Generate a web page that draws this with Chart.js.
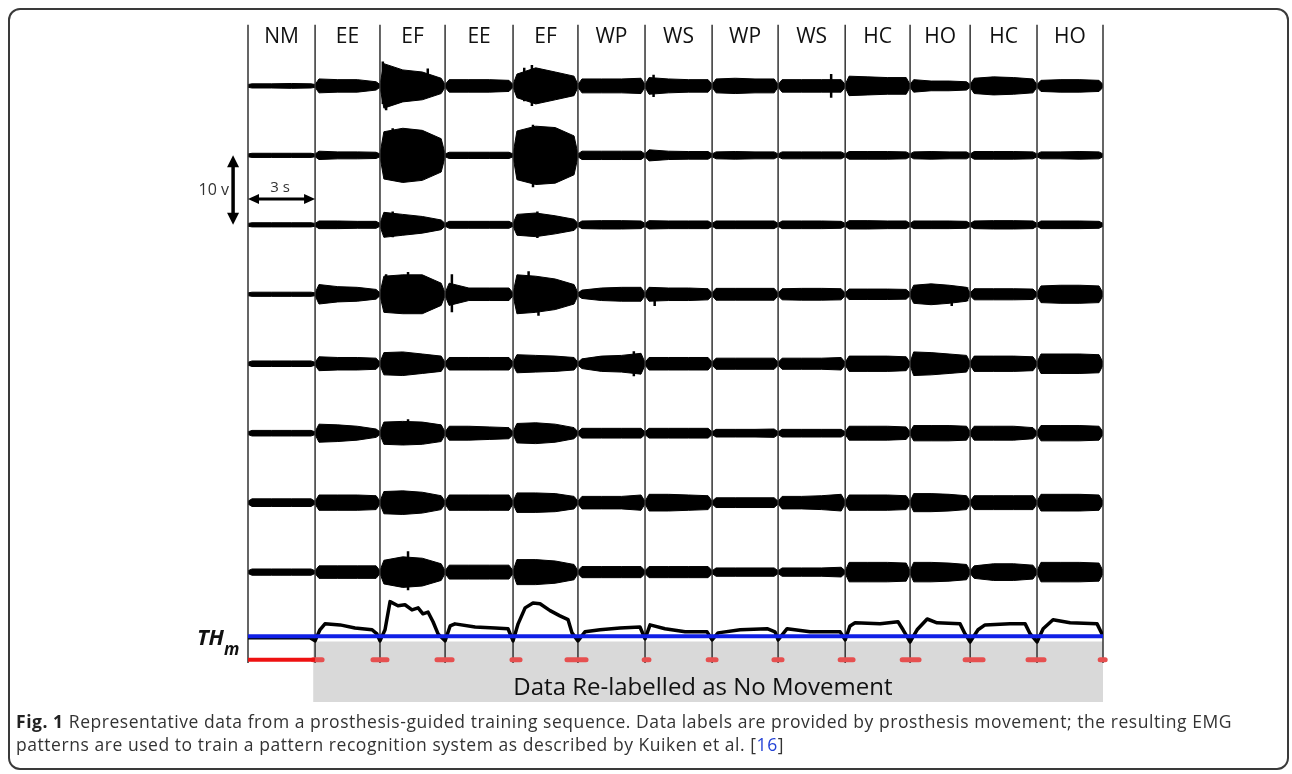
<!DOCTYPE html>
<html><head><meta charset="utf-8">
<script src="https://cdn.jsdelivr.net/npm/chart.js@4.4.0/dist/chart.umd.min.js"></script>
<style>
html,body{margin:0;padding:0;background:#fff;width:1292px;height:774px;overflow:hidden;}
#frame{position:absolute;left:8px;top:8px;width:1281px;height:762px;border:2px solid #3a3a3a;border-radius:12px;box-sizing:border-box;}
#c{position:absolute;left:0;top:0;}
#cap{position:absolute;left:16px;top:710px;font-family:"Open Sans";font-size:17.5px;line-height:23px;color:#333;white-space:nowrap;}
#cap b{color:#222;font-weight:700}
#cap span.ref{color:#2342d6}
#cap div{display:inline-block}
</style></head><body>
<div id="frame"></div>
<canvas id="c" width="1292" height="774"></canvas>
<div id="cap"><div id="l1"><b>Fig. 1</b> Representative data from a prosthesis-guided training sequence. Data labels are provided by prosthesis movement; the resulting EMG</div><br><div id="l2">patterns are used to train a pattern recognition system as described by Kuiken et al. [<span class="ref">16</span>]</div></div>
<script>
// ---- data ----
const segmentLabels = ['NM','EE','EF','EE','EF','WP','WS','WP','WS','HC','HO','HC','HO'];
const segmentBounds = [0, 3.06, 6.02, 8.99, 12.09, 15.05, 18.11, 21.17, 24.18, 27.24, 30.20, 32.94, 35.99, 39.0];
const channelOffsets = [0, -10, -20, -30, -40, -50, -60, -70];   // volts
const restAmp = 0.2;
// EMG amplitude envelope (V), 4 readings per segment
const emgCh1 = [[0.3,0.3,0.35,0.3],[1.0,0.9,0.9,0.6],[3.2,2.3,2.0,1.1],[0.9,0.9,0.9,0.8],[1.7,2.6,2.0,1.4],[1.0,1.0,1.0,1.1],[1.2,1.0,0.9,0.9],[1.0,1.1,1.0,1.0],[0.9,0.9,0.9,0.9],[1.4,1.3,1.2,1.2],[0.9,0.7,0.7,0.6],[1.1,1.3,1.2,1.0],[0.8,0.9,0.9,0.8]];
const emgCh2 = [[0.3,0.3,0.3,0.3],[0.6,0.5,0.5,0.45],[3.4,3.9,3.6,2.4],[0.45,0.45,0.45,0.45],[3.5,4.2,4.0,2.8],[0.6,0.6,0.6,0.6],[0.8,0.6,0.55,0.55],[0.5,0.55,0.5,0.5],[0.5,0.5,0.5,0.5],[0.55,0.55,0.55,0.5],[0.5,0.55,0.5,0.5],[0.55,0.55,0.55,0.5],[0.5,0.5,0.55,0.5]];
const emgCh3 = [[0.3,0.3,0.3,0.3],[0.55,0.55,0.5,0.5],[1.8,1.5,1.2,0.7],[0.5,0.5,0.5,0.5],[1.5,1.7,1.3,0.8],[0.55,0.6,0.6,0.55],[0.6,0.55,0.55,0.55],[0.55,0.55,0.55,0.55],[0.55,0.55,0.55,0.5],[0.6,0.6,0.55,0.55],[0.55,0.55,0.55,0.5],[0.55,0.6,0.6,0.55],[0.55,0.55,0.55,0.5]];
const emgCh4 = [[0.3,0.3,0.3,0.3],[1.4,1.1,1.0,0.7],[2.6,2.8,2.8,1.6],[1.6,0.9,0.9,0.9],[2.8,2.6,2.2,1.4],[0.6,0.9,1.0,1.0],[1.0,0.9,0.9,0.8],[0.85,0.85,0.85,0.85],[0.8,0.85,0.85,0.8],[0.75,0.75,0.75,0.7],[1.3,1.5,1.3,1.0],[0.8,0.8,0.8,0.75],[1.2,1.3,1.3,1.2]];
const emgCh5 = [[0.4,0.4,0.4,0.4],[1.0,0.9,0.9,0.8],[1.6,1.7,1.4,1.1],[0.9,0.9,0.9,0.9],[1.3,1.2,1.1,0.9],[0.7,1.1,1.2,1.5],[0.9,0.9,0.9,0.9],[0.8,0.8,0.8,0.8],[0.8,0.8,0.8,0.9],[1.1,1.1,1.1,1.0],[1.7,1.6,1.4,1.2],[1.1,1.1,1.1,1.0],[1.4,1.4,1.4,1.3]];
const emgCh6 = [[0.4,0.4,0.4,0.4],[1.3,1.2,1.0,0.6],[1.6,1.7,1.6,1.2],[1.0,1.0,0.9,0.8],[1.4,1.5,1.3,0.8],[0.7,0.7,0.7,0.7],[0.7,0.7,0.7,0.7],[0.55,0.55,0.55,0.6],[0.55,0.55,0.55,0.55],[1.0,1.0,1.0,0.9],[1.1,1.1,1.1,1.0],[1.0,1.0,1.0,0.8],[1.1,1.1,1.1,1.0]];
const emgCh7 = [[0.55,0.55,0.55,0.55],[1.1,1.1,1.1,1.0],[1.6,1.7,1.5,1.0],[1.1,1.1,1.1,1.1],[1.4,1.4,1.3,0.9],[0.9,0.9,0.9,1.1],[1.2,1.2,1.1,1.0],[0.7,0.7,0.7,0.7],[0.9,0.9,1.0,1.2],[1.1,1.1,1.1,1.0],[1.3,1.3,1.2,1.0],[1.0,1.0,1.0,1.0],[1.2,1.2,1.2,1.1]];
const emgCh8 = [[0.45,0.45,0.45,0.45],[0.9,0.9,0.9,0.9],[1.7,2.2,2.0,1.2],[1.0,1.0,1.0,1.0],[1.8,1.8,1.6,1.1],[0.8,0.8,0.8,0.8],[0.8,0.8,0.8,0.8],[0.6,0.6,0.6,0.6],[0.6,0.6,0.6,0.7],[1.4,1.4,1.4,1.3],[1.4,1.4,1.3,1.1],[0.9,1.2,1.2,1.0],[1.4,1.4,1.4,1.3]];
const emgChannels = [emgCh1, emgCh2, emgCh3, emgCh4, emgCh5, emgCh6, emgCh7, emgCh8];
// prominent individual spikes: channel index, time (s), up / down excursion (V)
const spikeChannel = [0,0,0,0,0,0,0,3,3,3,3,3,3,3,3,4,5,7,7,1,1,2,2];
const spikeTime    = [6.15,6.3,8.2,12.6,12.95,18.5,26.6,6.3,7.3,9.3,12.8,13.25,18.55,32.8,32.1,17.6,7.3,7.3,7.5,6.6,13.0,6.6,13.2];
const spikeUp      = [3.5,2.0,2.5,2.6,3.0,1.6,1.7,2.9,3.2,2.9,3.3,2.0,1.0,1.0,1.0,1.8,2.0,3.0,1.5,3.9,4.4,1.9,1.9];
const spikeDown    = [2.6,3.5,1.5,2.2,2.9,1.6,1.7,2.6,2.3,2.6,2.4,3.1,1.7,1.0,1.7,1.8,1.6,2.6,1.5,3.6,4.6,1.8,1.9];
// mean-absolute-value envelope relative to threshold TH_m (V)
const thresholdTH = -79.25;
const envTime = [0,1.46,2.83,3.06,3.28,3.51,4.2,4.88,5.66,5.88,6.02,6.25,6.48,6.84,7.16,7.48,7.76,7.98,8.21,8.44,8.67,8.99,9.22,9.44,10.36,11.27,11.86,12.09,12.32,12.64,13.0,13.32,13.78,14.23,14.6,14.78,15.05,15.37,16.06,16.97,17.88,18.11,18.34,19.02,19.94,20.94,21.17,21.44,22.45,23.68,24.04,24.18,24.59,25.64,27.01,27.24,27.46,27.69,28.83,29.65,29.88,30.2,30.52,30.98,31.43,32.48,32.71,32.94,33.3,33.62,34.76,35.45,35.68,35.99,36.27,36.72,37.5,38.73,39.0];
const envValue = [-0.2,-0.2,-0.2,-0.65,0.95,1.8,1.65,1.2,0.95,0.35,-0.65,0.95,5.0,4.4,4.55,3.8,4.1,3.25,3.5,2.1,0.35,-0.65,1.5,1.8,1.35,1.2,1.1,-0.65,1.8,4.1,4.8,4.7,3.7,2.95,2.4,0.5,-0.65,0.65,0.95,1.2,1.35,-0.35,1.65,1.1,0.65,0.65,-0.5,0.5,0.95,1.1,0.65,-0.5,1.1,0.65,0.65,-0.5,1.5,1.95,1.8,2.1,0.95,-0.8,0.95,2.5,1.95,1.8,0.35,-0.8,0.95,1.65,1.8,1.8,0.35,-0.8,1.1,2.4,1.95,1.8,0.05];
// label line: no-movement labels and re-labelled intervals (s)
const nmLabelSpan = [0, 3.06];
const relabelStart = [2.97,5.70,8.62,12.04,14.55,18.07,20.99,23.99,27.01,29.84,32.71,35.58,38.87];
const relabelEnd   = [3.38,6.34,9.31,12.41,15.42,18.29,21.35,24.36,27.60,30.61,33.53,36.31,39.1];
const labelLevel = -82.6;
const relabelBoxSpan = [2.97, 39.1];
const relabelBoxLevels = [-80.0, -88.7];
const relabelText = 'Data Re-labelled as No Movement';
const scaleBarVolts = 10, scaleBarSeconds = 3;

// ---- caption fit ----
(function(){
  const l1 = document.getElementById('l1');
  const target = 1216;
  const w = l1.getBoundingClientRect().width;
  const n = l1.textContent.length;
  const ls = (target - w) / n;
  document.getElementById('cap').style.letterSpacing = ls.toFixed(3) + 'px';
})();

// ---- build datasets ----
const fr = [0.06, 0.35, 0.65, 0.94];
function band(ch, off, sign){
  const pts = [];
  for (let s = 0; s < segmentLabels.length; s++){
    const b0 = segmentBounds[s], b1 = segmentBounds[s+1];
    pts.push({x:b0, y:off + sign*restAmp});
    ch[s].forEach((a,i)=>pts.push({x:b0 + (b1-b0)*fr[i], y:off + sign*a}));
  }
  pts.push({x:segmentBounds[segmentBounds.length-1], y:off + sign*restAmp});
  return pts;
}
const base = {pointRadius:0, tension:0, fill:false, spanGaps:false};
const datasets = [];
datasets.push({...base, label:'TH', data:[{x:0,y:thresholdTH},{x:segmentBounds[13],y:thresholdTH}], borderColor:'#1020e6', borderWidth:4});
datasets.push({...base, label:'env', data:envTime.map((t,i)=>({x:t,y:thresholdTH+envValue[i]})), borderColor:'#000', borderWidth:3.5, borderJoinStyle:'round'});
datasets.push({...base, label:'nm', data:[{x:nmLabelSpan[0],y:labelLevel},{x:nmLabelSpan[1],y:labelLevel}], borderColor:'#ee1111', borderWidth:4});
const relPts = [];
relabelStart.forEach((s,i)=>{relPts.push({x:s,y:labelLevel},{x:relabelEnd[i],y:labelLevel},{x:relabelEnd[i],y:null});});
datasets.push({...base, label:'relabel', data:relPts, borderColor:'#e65050', borderWidth:5, borderCapStyle:'round', clip:false});
const sepPts = [];
segmentBounds.forEach(b=>{sepPts.push({x:b,y:8.8},{x:b,y:-83.1},{x:b,y:null});});
datasets.push({...base, label:'sep', data:sepPts, borderColor:'#333', borderWidth:1.5, clip:false});
const spikePts = [];
spikeChannel.forEach((c,i)=>{
  const off = channelOffsets[c];
  spikePts.push({x:spikeTime[i],y:off+spikeUp[i]},{x:spikeTime[i],y:off-spikeDown[i]},{x:spikeTime[i],y:null});
});
datasets.push({...base, label:'spikes', data:spikePts, borderColor:'#000', borderWidth:2.5});
emgChannels.forEach((ch,k)=>{
  datasets.push({...base, label:'up'+k, data:band(ch,channelOffsets[k],1), borderColor:'#000', borderWidth:1, backgroundColor:'#000', fill:'+1'});
  datasets.push({...base, label:'lo'+k, data:band(ch,channelOffsets[k],-1), borderColor:'#000', borderWidth:1});
});
datasets.push({...base, label:'box', data:[{x:relabelBoxSpan[0],y:relabelBoxLevels[0]},{x:relabelBoxSpan[1],y:relabelBoxLevels[0]}], borderWidth:0, borderColor:'rgba(0,0,0,0)', backgroundColor:'#d9d9d9', fill:{value:relabelBoxLevels[1]}, clip:false});

function arrow(ctx, x1,y1,x2,y2, head, hw, lw){
  const ang = Math.atan2(y2-y1, x2-x1);
  const ux=Math.cos(ang), uy=Math.sin(ang);
  ctx.save(); ctx.strokeStyle='#000'; ctx.fillStyle='#000'; ctx.lineWidth=lw;
  ctx.beginPath(); ctx.moveTo(x1+ux*head*0.8,y1+uy*head*0.8); ctx.lineTo(x2-ux*head*0.8,y2-uy*head*0.8); ctx.stroke();
  [[x1,y1,1],[x2,y2,-1]].forEach(([x,y,d])=>{
    ctx.beginPath(); ctx.moveTo(x,y);
    ctx.lineTo(x+d*ux*head - uy*hw/2, y+d*uy*head + ux*hw/2);
    ctx.lineTo(x+d*ux*head + uy*hw/2, y+d*uy*head - ux*hw/2);
    ctx.closePath(); ctx.fill();
  });
  ctx.restore();
}

const annot = {
  id:'annot',
  afterDraw(chart){
    const ctx = chart.ctx, xs = chart.scales.x, ys = chart.scales.y;
    ctx.save();
    // segment labels
    ctx.fillStyle='#111'; ctx.font='21px "Open Sans"'; ctx.textAlign='center'; ctx.textBaseline='middle';
    segmentLabels.forEach((l,i)=>{
      ctx.fillText(l, xs.getPixelForValue((segmentBounds[i]+segmentBounds[i+1])/2), ys.getPixelForValue(7.0));
    });
    // box text
    ctx.font='24px "Open Sans"'; ctx.textBaseline='alphabetic'; ctx.fillStyle='#111';
    ctx.fillText(relabelText, xs.getPixelForValue(20.75), ys.getPixelForValue(-87.7));
    // TH_m
    ctx.textAlign='left';
    ctx.font='italic bold 22px "Open Sans"';
    const thx = xs.getPixelForValue(-2.33);
    ctx.fillText('TH', thx, ys.getPixelForValue(-80.5));
    const w = ctx.measureText('TH').width;
    ctx.font='italic bold 17px "Open Sans"';
    ctx.fillText('m', thx + w, ys.getPixelForValue(-81.9));
    // scale bars
    const vx = xs.getPixelForValue(-0.68);
    arrow(ctx, vx, ys.getPixelForValue(-10), vx, ys.getPixelForValue(-10-scaleBarVolts), 12, 12, 3.5);
    const hy = ys.getPixelForValue(-16.3);
    arrow(ctx, xs.getPixelForValue(0), hy, xs.getPixelForValue(scaleBarSeconds*1.02), hy, 11, 10, 3);
    ctx.fillStyle='#333'; ctx.textBaseline='middle';
    ctx.font='16px "Open Sans"'; ctx.textAlign='right';
    ctx.fillText(scaleBarVolts+' v', xs.getPixelForValue(-0.87), ys.getPixelForValue(-15.0));
    ctx.font='15px "Open Sans"'; ctx.textAlign='center';
    ctx.fillText(scaleBarSeconds+' s', xs.getPixelForValue(1.46), ys.getPixelForValue(-14.7));
    ctx.restore();
  }
};

new Chart(document.getElementById('c'), {
  type:'line',
  data:{datasets},
  options:{
    responsive:false, animation:false, devicePixelRatio:1,
    layout:{padding:{left:248, right:189, top:22, bottom:72}},
    scales:{
      x:{type:'linear', min:0, max:39.0, display:false},
      y:{type:'linear', min:-88.7, max:9.2, display:false}
    },
    plugins:{legend:{display:false}, tooltip:{enabled:false}}
  },
  plugins:[annot]
});
</script>
</body></html>
